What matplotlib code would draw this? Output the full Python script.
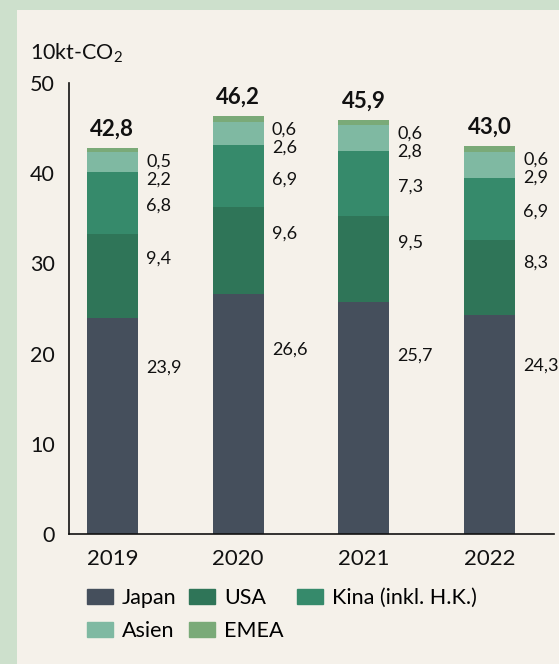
import matplotlib.pyplot as plt
import matplotlib.patches as mpatches
import numpy as np

plt.rcParams["font.family"] = ["Lato", "DejaVu Sans"]
plt.rcParams["mathtext.default"] = "regular"

years = ["2019", "2020", "2021", "2022"]
series = ["Japan", "USA", "Kina (inkl. H.K.)", "Asien", "EMEA"]
japan = [23.9, 26.6, 25.7, 24.3]
usa = [9.4, 9.6, 9.5, 8.3]
kina = [6.8, 6.9, 7.3, 6.9]
asien = [2.2, 2.6, 2.8, 2.9]
emea = [0.5, 0.6, 0.6, 0.6]
totals = [42.8, 46.2, 45.9, 43.0]

colors = ["#454f5c", "#2f7558", "#368a6b", "#7fb9a2", "#7aaa78"]
bg = "#f5f1ea"
frame = "#cde0cc"


def fmt(v):
    return f"{v:.1f}".replace(".", ",")


fig = plt.figure(figsize=(5.59, 6.64), dpi=100)
fig.patch.set_facecolor(frame)
fig.patches.append(
    mpatches.Rectangle((17 / 559, 0), 1, (664 - 10) / 664,
                       transform=fig.transFigure, facecolor=bg,
                       edgecolor="none", zorder=-5)
)

ax = fig.add_axes([68.7 / 559, (664 - 534) / 664,
                   (554 - 68.7) / 559, (534 - 83) / 664])
ax.set_facecolor("none")

x = np.arange(len(years))
width = 0.405
data = [japan, usa, kina, asien, emea]
bottom = np.zeros(len(years))
for vals, col, name in zip(data, colors, series):
    ax.bar(x, vals, width, bottom=bottom, color=col, label=name, zorder=2)
    bottom = bottom + np.array(vals)

# segment value labels to the right of each bar
frac = [0.77, 0.70, 0.45]
lab = dict(xytext=(6, 0), textcoords="offset points", ha="left",
           va="center", fontsize=13, color="#111111")
for i in range(len(years)):
    base = 0.0
    for k in range(3):
        v = data[k][i]
        ax.annotate(fmt(v), (x[i] + width / 2, base + frac[k] * v), **lab)
        base += v
    top = bottom[i]
    ax.annotate(fmt(asien[i]), (x[i] + width / 2, top - 3.5), **lab)
    ax.annotate(fmt(emea[i]), (x[i] + width / 2, top - 1.5), **lab)
    ax.annotate(fmt(totals[i]), (x[i], top),
                xytext=(0, 6), textcoords="offset points",
                ha="center", va="bottom", fontsize=16,
                fontweight="bold", color="#111111")

ax.set_ylim(0, 50)
ax.set_xlim(-0.348, 3.513)
ax.set_yticks([0, 10, 20, 30, 40, 50])
ax.set_xticks(x)
ax.set_xticklabels(years)
ax.tick_params(axis="y", length=0, pad=10, labelsize=15.5, labelcolor="#111111")
ax.tick_params(axis="x", length=0, pad=11, labelsize=16, labelcolor="#111111")
for s in ["top", "right"]:
    ax.spines[s].set_visible(False)
for s in ["left", "bottom"]:
    ax.spines[s].set_color("#111111")
    ax.spines[s].set_linewidth(1.2)

fig.text(30 / 559, (664 - 53) / 664, "10kt-CO$_2$", fontsize=15.5,
         ha="left", va="center", color="#111111")

# legend is filled column-wise, so reorder to read row-wise
order = [0, 3, 1, 4, 2]
handles = [mpatches.Patch(color=colors[j]) for j in order]
labels = [series[j] for j in order]
fig.legend(handles, labels, ncol=3, frameon=False,
           loc="upper left", bbox_to_anchor=(87 / 559, (664 - 588) / 664),
           fontsize=15.5, handlelength=1.2, handleheight=0.7,
           handletextpad=0.42, columnspacing=0.6, labelspacing=0.6,
           borderaxespad=0, borderpad=0)

fig.savefig("out.png", dpi=100, facecolor=fig.get_facecolor())
